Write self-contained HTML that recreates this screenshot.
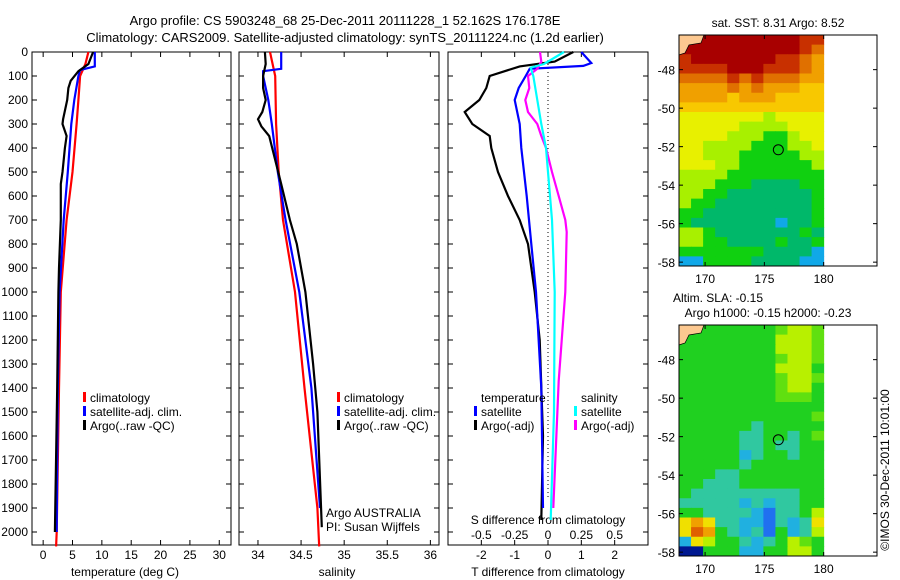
<!DOCTYPE html>
<html><head><meta charset="utf-8">
<style>
body{margin:0;background:#fff;}
svg{display:block;font-family:"Liberation Sans",sans-serif;}
text{font-size:12px;fill:#000;}
</style></head>
<body>
<svg id="fig" width="900" height="580">
<text x="345" y="25" text-anchor="middle" font-size="13" style="font-size:13px">Argo profile: CS 5903248_68 25-Dec-2011 20111228_1 52.162S 176.178E</text>
<text x="345" y="42" text-anchor="middle" style="font-size:13px">Climatology: CARS2009. Satellite-adjusted climatology: synTS_20111224.nc (1.2d earlier)</text>
<text x="778" y="27" text-anchor="middle">sat. SST: 8.31  Argo: 8.52</text>
<text x="718" y="302" text-anchor="middle">Altim. SLA: -0.15</text>
<text x="768" y="317" text-anchor="middle">Argo h1000: -0.15 h2000: -0.23</text>
<text transform="translate(889,470) rotate(-90)" text-anchor="middle">©IMOS 30-Dec-2011 10:01:00</text>
<g id="g"></g>
</svg>
<script>
// ---- profile data (depth in m) ----
const tClimD=[0,50,100,200,300,500,700,1000,1400,2000,2060];
const tClimV=[7.7,7.2,6.3,6.0,5.7,5.0,4.0,3.0,2.7,2.3,2.2];
const tSatD=[0,60,75,100,200,300,500,700,1000,1400,2000];
const tSatV=[8.8,8.8,6.3,6.0,5.3,4.8,4.2,3.5,2.8,2.5,2.3];
const tArgD=[0,50,80,120,150,200,280,300,350,400,500,550,700,900,1000,1400,2000];
const tArgV=[8.5,7.7,6.0,4.7,4.3,4.1,3.4,3.3,4.0,3.7,3.3,3.0,3.0,2.7,2.6,2.4,2.0];
const sClimD=[0,100,300,500,700,1000,1400,1900,2060];
const sClimV=[34.14,34.2,34.21,34.24,34.29,34.43,34.54,34.69,34.71];
const sSatD=[0,70,80,100,200,300,500,700,1000,1400,1900];
const sSatV=[34.27,34.27,34.06,34.06,34.12,34.16,34.23,34.32,34.48,34.62,34.72];
const sArgD=[0,50,100,150,200,250,280,310,350,450,550,700,800,1000,1300,1500,1980];
const sArgV=[34.08,34.09,34.06,34.06,34.09,34.05,34.0,34.04,34.13,34.2,34.27,34.37,34.45,34.55,34.64,34.69,34.74];
const dtSatD=[0,46,58,70,100,150,200,300,400,600,800,1000,1400,1900];
const dtSatV=[1.0,1.3,1.06,-0.55,-0.67,-0.88,-1.0,-0.85,-0.8,-0.64,-0.5,-0.36,-0.2,-0.15];
const dtArgD=[0,40,60,100,150,200,250,300,350,400,500,600,700,800,1000,1200,1600,1950];
const dtArgV=[0.76,0.2,-0.85,-1.75,-1.85,-2.06,-2.5,-2.27,-1.75,-1.7,-1.5,-1.2,-0.85,-0.6,-0.4,-0.25,-0.15,-0.2];
const dsSatD=[0,50,65,100,200,300,400,500,700,1000,1500,1950];
const dsSatV=[0.12,-0.03,-0.13,-0.11,-0.08,-0.05,-0.015,0,0.03,0.05,0.045,0.02];
const dsArgD=[0,40,70,100,150,200,250,300,350,400,500,600,700,750,1000,1370,1900];
const dsArgV=[-0.06,-0.05,-0.08,-0.15,-0.14,-0.17,-0.15,-0.08,-0.05,-0.015,0.03,0.08,0.13,0.14,0.13,0.08,0.04];
const depthTicks=[0,100,200,300,400,500,600,700,800,900,1000,1100,1200,1300,1400,1500,1600,1700,1800,1900,2000];
const tTicks=[0,5,10,15,20,25,30];
const sTicks=[34,34.5,35,35.5,36];
const sTickLabels=["34","34.5","35","35.5","36"];
const dtTicks=[-2,-1,0,1,2];
const dsTicks=[-0.5,-0.25,0,0.25,0.5];
const dsTickLabels=["-0.5","-0.25","0","0.25","0.5"];
const lonTicks=[170,175,180];
const latTicks=[-48,-50,-52,-54,-56,-58];
const argoLon=176.178, argoLat=-52.162;
// map grids: 12 cols (167.8..180), 24 rows of 0.5 deg from -46.2 south
const sstGrid=["999999999988","999999999987","899999998876","888899988876","777787877766","666676766655","666656665555","555555555555","444444434444","444443333444","444433322344","443333222334","443332222233","444332222223","333322222222","333222111122","332211111112","322111111112","221111111112","211111110112","332111111121","332211112112","222222211110","002222111100"];
const slaGrid=["444444445665","444444446665","444444446665","444444445665","444444446664","444444445665","444444445664","444444445554","444444444444","444444444445","444444344444","444443344345","444443343344","444442344344","444443444444","444334444444","443334444444","433333333344","333332323344","443333213346","787332213237","798432314236","276443234654","004442244664"];
const sstCols=['#10a8e8','#00b86a','#10d010','#a8f000','#e8f000','#f8c800','#f0a000','#e07000','#c83000','#a80000'];
const slaCols=['#001890','#2070f0','#20b0e0','#30c8a0','#20d020','#60e010','#b8f000','#f0e000','#f0a000','#e06000'];

const NS='http://www.w3.org/2000/svg';
const G=document.getElementById('g');
function mk(tag,attrs,parent){const e=document.createElementNS(NS,tag);for(const k in attrs)e.setAttribute(k,attrs[k]);(parent||G).appendChild(e);return e;}
function txt(x,y,s,anchor,name){const t=mk('text',{x:x,y:y,'text-anchor':anchor||'start'});t.textContent=s;


return t;}

const PT=52,PB=545;
const yD=d=>PT+d*(532-PT)/2000;
function panel(x0,x1,xmin,xmax,name){
  const xs=v=>x0+(v-xmin)*(x1-x0)/(xmax-xmin);
  const r=mk('rect',{x:x0,y:PT,width:x1-x0,height:PB-PT,fill:'none',stroke:'#000','stroke-width':1});
  
  
  depthTicks.forEach(d=>{mk('line',{x1:x0,x2:x0+5,y1:yD(d),y2:yD(d),stroke:'#000'});mk('line',{x1:x1,x2:x1-5,y1:yD(d),y2:yD(d),stroke:'#000'});});
  return xs;
}
function line(xs,D,V,color,name){
  const pts=D.map((d,i)=>xs(V[i]).toFixed(1)+','+yD(d).toFixed(1)).join(' ');
  const p=mk('polyline',{points:pts,fill:'none',stroke:color,'stroke-width':2.2});
  
  
}
// panel 1 temperature
const xT=panel(32,231,-1.9,32,'temperature-panel');
depthTicks.forEach(d=>txt(28,yD(d)+4,String(d),'end','depth-tick-label'));
tTicks.forEach(v=>{mk('line',{x1:xT(v),x2:xT(v),y1:PB,y2:PB-5,stroke:'#000'});mk('line',{x1:xT(v),x2:xT(v),y1:PT,y2:PT+5,stroke:'#000'});txt(xT(v),559,String(v),'middle','temperature-tick-label');});
txt(125,576,'temperature (deg C)','middle','temperature-axis-title');
line(xT,tClimD,tClimV,'#ff0000','temp-climatology-line');
line(xT,tSatD,tSatV,'#0000ff','temp-satellite-line');
line(xT,tArgD,tArgV,'#000000','temp-argo-line');
[['#ff0000','climatology'],['#0000ff','satellite-adj. clim.'],['#000','Argo(..raw -QC)']].forEach((l,i)=>{
  mk('rect',{x:83,y:392+i*14,width:3,height:10,fill:l[0]});txt(90,402+i*14,l[1],'start','temp-legend-entry');});
// panel 2 salinity
const xS=panel(239,439,33.78,36.1,'salinity-panel');
sTicks.forEach((v,i)=>{mk('line',{x1:xS(v),x2:xS(v),y1:PB,y2:PB-5,stroke:'#000'});mk('line',{x1:xS(v),x2:xS(v),y1:PT,y2:PT+5,stroke:'#000'});txt(xS(v),559,sTickLabels[i],'middle','salinity-tick-label');});
txt(337,576,'salinity','middle','salinity-axis-title');
line(xS,sClimD,sClimV,'#ff0000','sal-climatology-line');
line(xS,sSatD,sSatV,'#0000ff','sal-satellite-line');
line(xS,sArgD,sArgV,'#000000','sal-argo-line');
[['#ff0000','climatology'],['#0000ff','satellite-adj. clim.'],['#000','Argo(..raw -QC)']].forEach((l,i)=>{
  mk('rect',{x:337,y:392+i*14,width:3,height:10,fill:l[0]});txt(344,402+i*14,l[1],'start','sal-legend-entry');});
txt(326,517,'Argo AUSTRALIA','start','argo-credit');
txt(326,531,'PI: Susan Wijffels','start','pi-credit');
// panel 3 differences
const xDT=panel(448,648,-3,3,'difference-panel');
const xDS=v=>xDT(v*4);
mk('line',{x1:xDT(0),x2:xDT(0),y1:PT,y2:PB-45,stroke:'#000','stroke-dasharray':'1,3'});
dtTicks.forEach(v=>{mk('line',{x1:xDT(v),x2:xDT(v),y1:PB,y2:PB-5,stroke:'#000'});mk('line',{x1:xDT(v),x2:xDT(v),y1:PT,y2:PT+5,stroke:'#000'});txt(xDT(v),559,String(v),'middle','tdiff-tick-label');});
txt(548,576,'T difference from climatology','middle','tdiff-axis-title');
dsTicks.forEach((v,i)=>txt(xDS(v),539,dsTickLabels[i],'middle','sdiff-tick-label'));
txt(548,524,'S difference from climatology','middle','sdiff-axis-title');
line(xDT,dtArgD,dtArgV,'#000000','tdiff-argo-line');
line(xDT,dtSatD,dtSatV,'#0000ff','tdiff-satellite-line');
line(xDS,dsArgD,dsArgV,'#ff00ff','sdiff-argo-line');
line(xDS,dsSatD,dsSatV,'#00ffff','sdiff-satellite-line');
txt(481,402,'temperature','start','legend-temperature-header');
txt(581,402,'salinity','start','legend-salinity-header');
[['#0000ff','satellite',474],['#000','Argo(-adj)',474],['#00ffff','satellite',574],['#ff00ff','Argo(-adj)',574]].forEach((l,i)=>{
  const row=i%2;mk('rect',{x:l[2],y:406+row*14,width:3,height:10,fill:l[0]});txt(l[2]+7,416+row*14,l[1],'start','diff-legend-entry');});
// maps
function map(top,grid,cols,name){
  const L=679,R=877,B=top+231;
  const lonMin=167.8,lonMax=184.5,latTop=-46.2,latBot=-58.2;
  const mx=lo=>L+(lo-lonMin)*(R-L)/(lonMax-lonMin);
  const my=la=>top+(latTop-la)*(B-top)/(latTop-latBot);
  const g=mk('g',{});
  
  
  const dlon=(180-lonMin)/12;
  grid.forEach((row,r)=>{for(let c=0;c<row.length;c++){
    const la=latTop-r*0.5, lo=lonMin+c*dlon;
    mk('rect',{x:mx(lo),y:my(la),width:mx(lo+dlon)-mx(lo)+0.5,height:my(la-0.5)-my(la)+0.5,fill:cols[+row[c]]},g);}});
  mk('path',{d:`M${L} ${top} L${L+25} ${top} L${L+22} ${top+8} L${L+10} ${top+10} L${L+6} ${top+18} L${L} ${top+20} Z`,fill:'#fcc890',stroke:'#000','stroke-width':0.7},g);
  mk('rect',{x:L,y:top,width:R-L,height:B-top,fill:'none',stroke:'#000'},g);
  lonTicks.forEach(v=>{mk('line',{x1:mx(v),x2:mx(v),y1:B,y2:B-4,stroke:'#000'},g);mk('line',{x1:mx(v),x2:mx(v),y1:top,y2:top+4,stroke:'#000'},g);txt(mx(v),B+17,String(v),'middle','map-lon-tick-label');});
  latTicks.forEach(v=>{mk('line',{x1:L,x2:L+4,y1:my(v),y2:my(v),stroke:'#000'},g);mk('line',{x1:R,x2:R-4,y1:my(v),y2:my(v),stroke:'#000'},g);txt(L-4,my(v)+5,String(v),'end','map-lat-tick-label');});
  const c=mk('circle',{cx:mx(argoLon),cy:my(argoLat),r:5,fill:'none',stroke:'#000'},g);
  
  
}
map(35,sstGrid,sstCols,'sst-map');
map(325,slaGrid,slaCols,'sla-map');
</script>
</body></html>
